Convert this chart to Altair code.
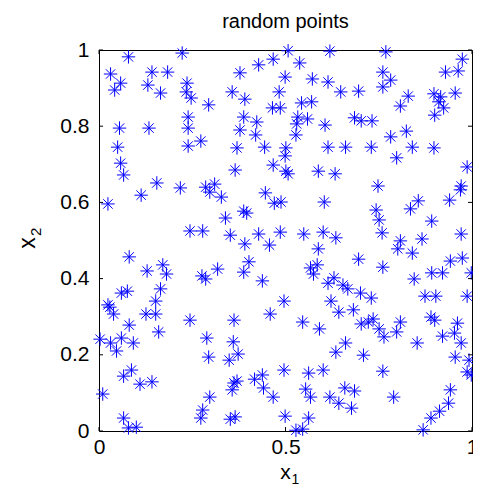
import altair as alt
import pandas as pd

# values
x1 = [0.079, 0.223, 0.031, 0.058, 0.042, 0.142, 0.184, 0.131, 0.165, 0.236, 0.234, 0.247, 0.055, 0.134, 0.239, 0.239, 0.239, 0.050, 0.058, 0.066,
      0.507, 0.467, 0.428, 0.378, 0.499, 0.357, 0.391, 0.483, 0.465, 0.486, 0.294, 0.388, 0.423, 0.378, 0.420, 0.370, 0.444, 0.501, 0.499, 0.467,
      0.365, 0.273, 0.501, 0.619, 0.769, 0.538, 0.572, 0.614, 0.648, 0.696, 0.761, 0.761, 0.543, 0.570, 0.533, 0.559, 0.530, 0.606, 0.685, 0.703,
      0.732, 0.528, 0.614, 0.661, 0.730, 0.588, 0.633, 0.974, 0.963, 0.929, 0.782, 0.829, 0.808, 0.898, 0.916, 0.911, 0.924, 0.900, 0.955, 0.782,
      0.824, 0.840, 0.898, 0.798, 0.987, 0.155, 0.218, 0.113, 0.024, 0.244, 0.081, 0.129, 0.171, 0.181, 0.060, 0.076, 0.165, 0.152, 0.024, 0.507,
      0.286, 0.310, 0.297, 0.328, 0.446, 0.470, 0.488, 0.388, 0.396, 0.339, 0.278, 0.352, 0.391, 0.428, 0.457, 0.486, 0.402, 0.388, 0.318, 0.276,
      0.286, 0.438, 0.496, 0.748, 0.604, 0.743, 0.751, 0.759, 0.549, 0.601, 0.635, 0.588, 0.696, 0.761, 0.585, 0.567, 0.575, 0.614, 0.630, 0.654,
      0.667, 0.701, 0.730, 0.622, 0.971, 0.969, 0.940, 0.856, 0.835, 0.892, 0.971, 0.808, 0.801, 0.840, 0.866, 0.942, 0.974, 0.998, 0.845, 0.892,
      0.921, 0.874, 0.903, 0.987, 0.029, 0.039, 0.126, 0.152, 0.244, 0.081, 0.160, 0.003, 0.031, 0.060, 0.092, 0.047, 0.066, 0.087, 0.110, 0.142,
      0.010, 0.066, 0.079, 0.100, 0.459, 0.362, 0.289, 0.360, 0.294, 0.349, 0.373, 0.496, 0.417, 0.438, 0.441, 0.467, 0.362, 0.357, 0.370, 0.297,
      0.278, 0.273, 0.352, 0.365, 0.499, 0.643, 0.682, 0.546, 0.591, 0.703, 0.722, 0.735, 0.751, 0.764, 0.661, 0.635, 0.709, 0.562, 0.601, 0.761,
      0.554, 0.567, 0.619, 0.659, 0.685, 0.643, 0.677, 0.562, 0.528, 0.546, 0.808, 0.798, 0.890, 0.900, 0.961, 0.853, 0.921, 0.953, 0.971, 0.955,
      0.992, 0.987, 0.998, 0.790, 0.942, 0.937, 0.913, 0.890, 0.869]
x2 = [0.982, 0.992, 0.937, 0.913, 0.895, 0.942, 0.942, 0.908, 0.887, 0.913, 0.890, 0.874, 0.795, 0.795, 0.824, 0.795, 0.748, 0.745, 0.703, 0.672,
      0.998, 0.976, 0.961, 0.940, 0.929, 0.890, 0.871, 0.890, 0.848, 0.848, 0.856, 0.824, 0.811, 0.790, 0.777, 0.743, 0.745, 0.743, 0.722, 0.698,
      0.685, 0.761, 0.682, 0.997, 0.995, 0.966, 0.924, 0.916, 0.890, 0.892, 0.942, 0.903, 0.861, 0.864, 0.824, 0.819, 0.806, 0.803, 0.822, 0.814,
      0.814, 0.777, 0.745, 0.745, 0.745, 0.682, 0.675, 0.976, 0.945, 0.942, 0.921, 0.879, 0.853, 0.885, 0.877, 0.864, 0.848, 0.829, 0.887, 0.772,
      0.787, 0.745, 0.743, 0.717, 0.693, 0.651, 0.638, 0.619, 0.596, 0.525, 0.457, 0.420, 0.436, 0.412, 0.362, 0.367, 0.373, 0.341, 0.331, 0.675,
      0.640, 0.648, 0.627, 0.614, 0.625, 0.598, 0.601, 0.577, 0.572, 0.559, 0.525, 0.514, 0.491, 0.517, 0.488, 0.522, 0.444, 0.417, 0.425, 0.407,
      0.399, 0.394, 0.341, 0.643, 0.601, 0.580, 0.554, 0.520, 0.517, 0.522, 0.507, 0.478, 0.451, 0.430, 0.436, 0.428, 0.412, 0.388, 0.402, 0.383,
      0.373, 0.362, 0.349, 0.341, 0.643, 0.633, 0.606, 0.604, 0.583, 0.551, 0.517, 0.499, 0.478, 0.467, 0.504, 0.446, 0.454, 0.415, 0.399, 0.415,
      0.415, 0.354, 0.354, 0.354, 0.325, 0.307, 0.307, 0.307, 0.291, 0.278, 0.260, 0.241, 0.231, 0.244, 0.231, 0.210, 0.144, 0.160, 0.123, 0.129,
      0.097, 0.034, 0.008, 0.010, 0.307, 0.291, 0.244, 0.234, 0.194, 0.186, 0.202, 0.160, 0.136, 0.147, 0.113, 0.089, 0.126, 0.108, 0.131, 0.089,
      0.055, 0.034, 0.031, 0.037, 0.039, 0.312, 0.318, 0.286, 0.268, 0.281, 0.286, 0.294, 0.268, 0.247, 0.231, 0.207, 0.199, 0.152, 0.160, 0.157,
      0.110, 0.089, 0.089, 0.113, 0.105, 0.073, 0.060, 0.034, 0.002, 0.005, 0.286, 0.260, 0.299, 0.291, 0.283, 0.231, 0.249, 0.257, 0.231, 0.194,
      0.186, 0.155, 0.147, 0.089, 0.108, 0.073, 0.052, 0.034, 0.003]
x_ticks = [0, 0.5, 1]
y_ticks = [0, 0.2, 0.4, 0.6, 0.8, 1]

W, H = 373, 381
FONT = "Liberation Sans"
STAR = "M-1,0L1,0M0,-1L0,1M-0.7,-0.7L0.7,0.7M-0.7,0.7L0.7,-0.7"

df = pd.DataFrame({"x": x1, "y": x2})
xs = alt.Scale(domain=[0, 1], nice=False, zero=False)
ys = alt.Scale(domain=[0, 1], nice=False, zero=False)
xaxis = alt.Axis(values=x_ticks, format="~g", title=None, grid=False, domain=False, ticks=False,
                 labelFont=FONT, labelFontSize=21, labelColor="black", labelPadding=5,
                 labelFlush=False)
yaxis = alt.Axis(values=y_ticks, format="~g", title=None, grid=False, domain=False, ticks=False,
                 labelFont=FONT, labelFontSize=21, labelColor="black", labelPadding=10,
                 labelFlush=False)

points = alt.Chart(df).mark_point(
    shape=STAR, filled=False, size=180, color="#0000ff", strokeWidth=1, opacity=1
).encode(
    x=alt.X("x:Q", scale=xs, axis=xaxis),
    y=alt.Y("y:Q", scale=ys, axis=yaxis),
)

xt = pd.DataFrame({"v": x_ticks})
yt = pd.DataFrame({"v": y_ticks})
tick_b = alt.Chart(xt).mark_rule(color="black", strokeWidth=1).encode(
    x=alt.X("v:Q", scale=xs, axis=xaxis), y=alt.value(H), y2=alt.value(H - 4))
tick_t = alt.Chart(xt).mark_rule(color="black", strokeWidth=1).encode(
    x=alt.X("v:Q", scale=xs, axis=xaxis), y=alt.value(0), y2=alt.value(4))
tick_l = alt.Chart(yt).mark_rule(color="black", strokeWidth=1).encode(
    y=alt.Y("v:Q", scale=ys, axis=yaxis), x=alt.value(0), x2=alt.value(4))
tick_r = alt.Chart(yt).mark_rule(color="black", strokeWidth=1).encode(
    y=alt.Y("v:Q", scale=ys, axis=yaxis), x=alt.value(W), x2=alt.value(W - 4))

one = pd.DataFrame({"k": [0]})
title = alt.Chart(one).mark_text(text="random points", font=FONT, fontSize=20, color="black",
                                 align="center", baseline="middle").encode(
    x=alt.value(W / 2), y=alt.value(-28))
xlab = alt.Chart(one).mark_text(text="x", font=FONT, fontSize=21, color="black",
                                align="center", baseline="alphabetic").encode(
    x=alt.value(W / 2), y=alt.value(429))
xsub = alt.Chart(one).mark_text(text="1", font=FONT, fontSize=14, color="black",
                                align="left", baseline="alphabetic").encode(
    x=alt.value(W / 2 + 6), y=alt.value(434))
ylab = alt.Chart(one).mark_text(text="x", font=FONT, fontSize=23, color="black", angle=270,
                                align="center", baseline="alphabetic").encode(
    x=alt.value(-64), y=alt.value(193))
ysub = alt.Chart(one).mark_text(text="2", font=FONT, fontSize=15, color="black", angle=270,
                                align="left", baseline="alphabetic").encode(
    x=alt.value(-58), y=alt.value(186))

chart = alt.layer(points, tick_b, tick_t, tick_l, tick_r, title, xlab, xsub, ylab, ysub).properties(
    width=W, height=H,
    padding={"left": 91, "top": 42, "right": 1, "bottom": 56},
    autosize=alt.AutoSizeParams(type="none"),
).configure(background="white").configure_view(stroke="black", strokeWidth=1)

chart.save("out.html", embed_options={"renderer": "svg", "actions": False})
